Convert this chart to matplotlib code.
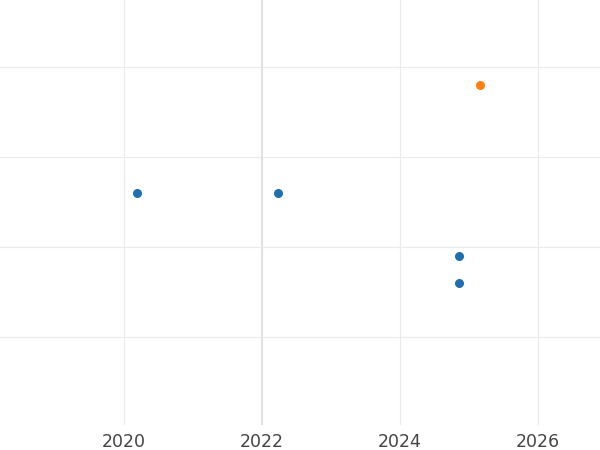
import matplotlib
matplotlib.use("Agg")
import matplotlib.pyplot as plt

# decimal years and (unlabelled) values
blue_x = [2020.19, 2022.23, 2024.86, 2024.86]
blue_y = [2.6, 2.6, 1.9, 1.6]
orange_x = [2025.16]
orange_y = [3.8]

fig = plt.figure(figsize=(6, 4.5), dpi=100)
ax = fig.add_axes([0, 0.056, 1, 0.944])
ax.scatter(blue_x, blue_y, s=30, color="#1f6fb0", zorder=3)
ax.scatter(orange_x, orange_y, s=30, color="#ff7f0e", zorder=3)
ax.axvline(2022, color="#e2e2e2", lw=1.5, zorder=1)

ax.set_xlim(2018.2, 2026.9)
ax.set_ylim(0.02, 4.74)
ax.set_xticks([2020, 2022, 2024, 2026])
ax.set_yticks([1, 2, 3, 4])
ax.set_yticklabels([])
ax.tick_params(length=0, labelsize=12.5, labelcolor="#444444", pad=6)
ax.grid(True, color="#ebebeb", lw=0.8)
ax.set_axisbelow(True)
for s in ax.spines.values():
    s.set_visible(False)

fig.savefig("out.png", dpi=100)
